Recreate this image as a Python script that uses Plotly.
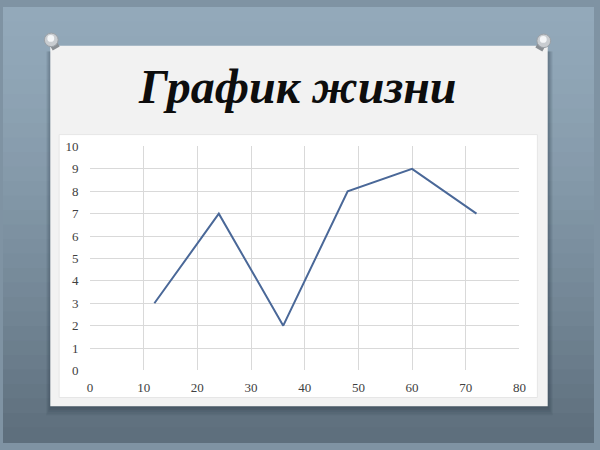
import plotly.graph_objects as go

ages = [12, 24, 36, 48, 60, 72]
scores = [3, 7, 2, 8, 9, 7]
x_ticks = [0, 10, 20, 30, 40, 50, 60, 70, 80]
y_ticks = [0, 1, 2, 3, 4, 5, 6, 7, 8, 9, 10]
title_text = "График жизни"

W, H = 600, 450
def px(x): return x / W
def py(y): return 1 - y / H

fig = go.Figure()
fig.add_trace(go.Scatter(x=ages, y=scores, mode="lines",
                         line=dict(color="#4a6898", width=2), showlegend=False,
                         hoverinfo="skip"))

shapes = []
# vertical gradient background
top = (0x93, 0xa9, 0xba)
bot = (0x5e, 0x6f, 0x7d)
N = 30
for i in range(N):
    t = i / (N - 1)
    c = tuple(int(top[j] + (bot[j] - top[j]) * t ** 1.4) for j in range(3))
    shapes.append(dict(type="rect", xref="paper", yref="paper", x0=0, x1=1,
                       y0=py((i + 1) * H / N + 1), y1=py(i * H / N),
                       fillcolor="rgb(%d,%d,%d)" % c, line_width=0, layer="below"))
# card shadow
for k in range(5):
    shapes.append(dict(type="rect", xref="paper", yref="paper",
                       x0=px(48 - k), x1=px(554 + k), y0=py(415 + k * 1.8), y1=py(46),
                       fillcolor="rgba(20,30,40,0.07)", line_width=0, layer="below"))
# card
shapes.append(dict(type="rect", xref="paper", yref="paper",
                   x0=px(48), x1=px(553), y0=py(413), y1=py(40),
                   fillcolor="#f2f2f2", line_width=0, layer="below"))
# chart white area
shapes.append(dict(type="rect", xref="paper", yref="paper",
                   x0=px(57), x1=px(542.5), y0=py(404), y1=py(132),
                   fillcolor="#ffffff", line=dict(color="#e6e6e6", width=1), layer="below"))
# pins
for cx, cy in [(49, 34), (549, 35)]:
    dx = 1 if cx < 300 else -1
    shapes.append(dict(type="line", xref="paper", yref="paper",
                       x0=px(cx), y0=py(cy), x1=px(cx + dx * 5), y1=py(cy + 9),
                       line=dict(color="#8a8f94", width=8)))
    shapes.append(dict(type="circle", xref="paper", yref="paper",
                       x0=px(cx - 7), x1=px(cx + 7), y0=py(cy + 7), y1=py(cy - 7),
                       fillcolor="#c9cdd1", line=dict(color="#9aa0a6", width=1)))
    shapes.append(dict(type="circle", xref="paper", yref="paper",
                       x0=px(cx - 4), x1=px(cx + 3), y0=py(cy + 2), y1=py(cy - 5),
                       fillcolor="#f4f6f8", line_width=0))

fig.update_layout(
    width=W, height=H, margin=dict(l=0, r=0, t=0, b=0),
    paper_bgcolor="#7f93a3", plot_bgcolor="rgba(0,0,0,0)",
    shapes=shapes,
    annotations=[dict(text=f"<b><i>{title_text}</i></b>", xref="paper", yref="paper",
                      x=px(299), y=py(82), xanchor="center", yanchor="middle",
                      showarrow=False,
                      font=dict(family="Liberation Serif", size=48, color="#0d0d0d"))],
    xaxis=dict(domain=[px(88.3), px(524.3)], range=[0, 80], tickvals=x_ticks,
               showgrid=True, gridcolor="#d9d9d9", gridwidth=1, zeroline=False,
               showline=False, ticks="outside", ticklen=5, tickcolor="rgba(0,0,0,0)",
               tickfont=dict(family="Liberation Serif", size=13, color="#404040")),
    yaxis=dict(domain=[py(376), py(144.3)], range=[0, 10], tickvals=y_ticks,
               showgrid=True, gridcolor="#d9d9d9", gridwidth=1, zeroline=False,
               showline=False, ticks="outside", ticklen=8, tickcolor="rgba(0,0,0,0)",
               tickfont=dict(family="Liberation Serif", size=13, color="#404040")),
)
fig.write_html("out.html", config={"displayModeBar": False},
               post_script="document.body.style.margin='0';document.body.style.overflow='hidden';")
